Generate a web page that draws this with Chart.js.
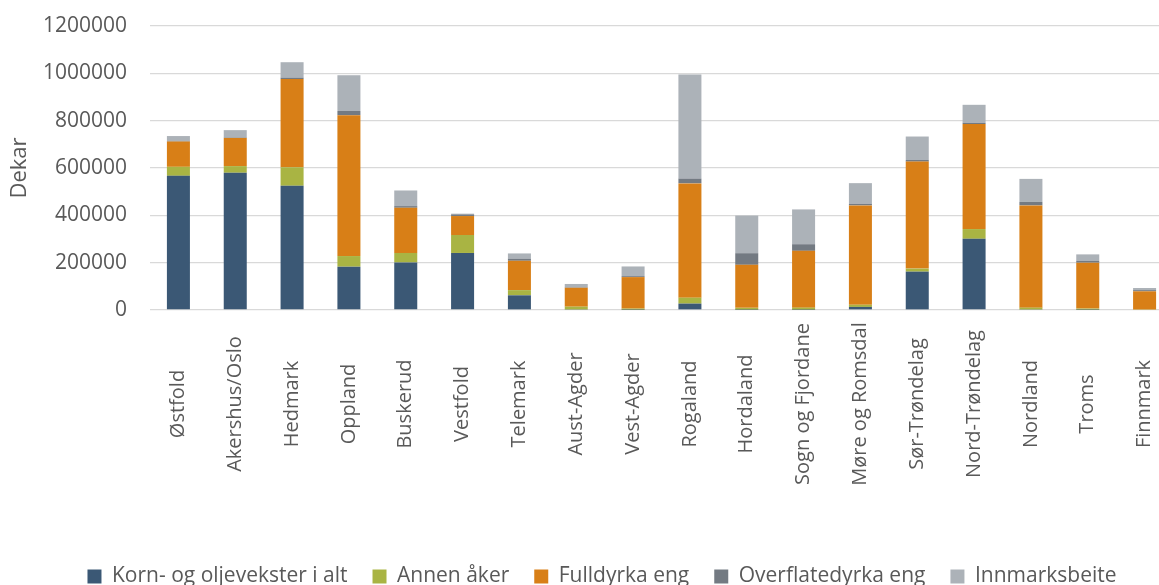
<!DOCTYPE html>
<html>
<head>
<meta charset="utf-8">
<script src="https://cdn.jsdelivr.net/npm/chart.js@4/dist/chart.umd.min.js"></script>
<style>
  html, body { margin: 0; padding: 0; background: #fff; overflow: hidden; }
  #wrap { width: 1204px; height: 585px; }
</style>
</head>
<body>
<div id="wrap"><canvas id="chart" width="1204" height="585"></canvas></div>
<script>
const fylker = ['Østfold', 'Akershus/Oslo', 'Hedmark', 'Oppland', 'Buskerud', 'Vestfold', 'Telemark', 'Aust-Agder', 'Vest-Agder', 'Rogaland', 'Hordaland', 'Sogn og Fjordane', 'Møre og Romsdal', 'Sør-Trøndelag', 'Nord-Trøndelag', 'Nordland', 'Troms', 'Finnmark'];
const korn      = [567000, 580000, 525000, 183000, 201000, 241000, 62000, 2000, 1000, 27000, 1000, 1000, 13000, 162000, 301000, 2000, 1000, 0];
const annenAker = [38000, 28000, 78000, 45000, 40000, 76000, 22000, 12000, 5000, 25000, 8000, 9000, 9000, 13000, 41000, 8000, 5000, 2000];
const fulldyrka = [107000, 119000, 373000, 595000, 191000, 80000, 124000, 80000, 133000, 483000, 182000, 240000, 420000, 452000, 444000, 432000, 194000, 77000];
const overflate = [3000, 2000, 6000, 18000, 7000, 7000, 9000, 2000, 4000, 20000, 49000, 28000, 7000, 7000, 5000, 15000, 7000, 5000];
const innmark   = [20000, 31000, 65000, 151000, 66000, 3000, 22000, 14000, 41000, 440000, 159000, 147000, 87000, 99000, 76000, 97000, 28000, 9000];
const yTicks = [0, 200000, 400000, 600000, 800000, 1000000, 1200000];

const textColor = '#595959';
const fontFamily = "'Open Sans', sans-serif";

// vertical category labels, centred like the original instead of hanging from the axis
const centredLabels = {
    id: 'centredLabels',
    afterLayout(chart) {
        // push the legend row down to the bottom edge
        chart.legend.top += 12;
        chart.legend.bottom += 12;
    },
    afterDraw(chart) {
        const x = chart.scales.x;
        const ctx = chart.ctx;
        ctx.save();
        ctx.fillStyle = textColor;
        ctx.font = `20px ${fontFamily}`;
        ctx.textAlign = 'center';
        ctx.textBaseline = 'middle';
        fylker.forEach((name, i) => {
            ctx.save();
            ctx.translate(x.getPixelForTick(i), 404);
            ctx.rotate(-Math.PI / 2);
            ctx.fillText(name, 0, 0);
            ctx.restore();
        });
        ctx.restore();
    }
};

function ds(label, data, color) {
    return { label, data, backgroundColor: color, borderWidth: 0, categoryPercentage: 1, barPercentage: 0.405 };
}

new Chart(document.getElementById('chart'), {
    type: 'bar',
    data: {
        labels: fylker,
        datasets: [
            ds('Korn- og oljevekster i alt', korn, '#3b5875'),
            ds('Annen åker', annenAker, '#a9b443'),
            ds('Fulldyrka eng', fulldyrka, '#d87f17'),
            ds('Overflatedyrka eng', overflate, '#737a82'),
            ds('Innmarksbeite', innmark, '#acb2b8')
        ]
    },
    options: {
        responsive: false,
        animation: false,
        layout: { padding: 0 },
        plugins: {
            tooltip: { enabled: false },
            legend: {
                position: 'bottom',
                labels: {
                    boxWidth: 14, boxHeight: 14, padding: 25,
                    color: textColor,
                    font: { family: fontFamily, size: 21 }
                }
            }
        },
        scales: {
            x: {
                stacked: true,
                grid: { display: false },
                border: { display: false },
                ticks: { display: false },
                afterFit(s) { s.height = 585 - 310 - s.chart.legend.height; }
            },
            y: {
                stacked: true,
                min: 0, max: 1200000,
                afterBuildTicks(s) { s.ticks = yTicks.map(v => ({ value: v })); },
                grid: { color: '#d9d9d9', lineWidth: 1.3, drawTicks: false },
                border: { display: false },
                ticks: { color: textColor, padding: 23, font: { family: fontFamily, size: 21 }, callback: v => String(v) },
                title: { display: true, text: 'Dekar', color: textColor, padding: { top: 7, bottom: 0 }, font: { family: fontFamily, size: 22 } },
                afterFit(s) { s.width = 150; s.paddingTop = 26; s.paddingBottom = 0; }
            },
            pad: {
                position: 'right',
                grid: { display: false },
                border: { display: false },
                ticks: { display: false },
                afterFit(s) { s.width = 31; }
            }
        }
    },
    plugins: [centredLabels]
});
</script>
</body>
</html>
